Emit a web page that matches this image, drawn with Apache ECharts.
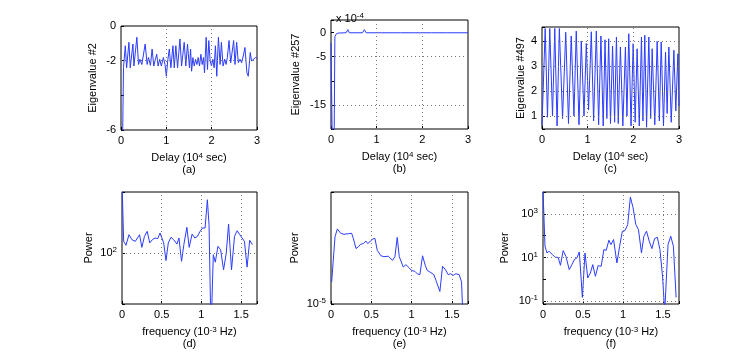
<!DOCTYPE html>
<html>
<head>
<meta charset="utf-8">
<script src="https://cdn.jsdelivr.net/npm/echarts@6.0.0/dist/echarts.min.js"></script>
<style>
  html, body { margin: 0; padding: 0; background: #fff; }
  #chart { width: 749px; height: 352px; }
</style>
</head>
<body>
<div id="chart"></div>
<script>
// (a) eigenvalue #2 against delay (10^4 sec)
var delayA = [0.036, 0.055, 0.095, 0.124, 0.175, 0.204, 0.263, 0.285, 0.35, 0.387, 0.416, 0.46, 0.533, 0.577, 0.606, 0.65, 0.686, 0.723, 0.759, 0.788, 0.818, 0.854, 0.89, 0.934, 0.971, 1.0, 1.03, 1.066, 1.10, 1.146, 1.175, 1.21, 1.248, 1.30, 1.336, 1.394, 1.43, 1.467, 1.51, 1.535, 1.557, 1.586, 1.615, 1.645, 1.674, 1.703, 1.732, 1.762, 1.791, 1.82, 1.842, 1.879, 1.908, 1.937, 1.966, 1.996, 2.025, 2.054, 2.083, 2.113, 2.149, 2.186, 2.215, 2.251, 2.288, 2.317, 2.346, 2.383, 2.42, 2.449, 2.485, 2.515, 2.551, 2.588, 2.624, 2.661, 2.697, 2.734, 2.778, 2.807, 2.851, 2.88, 2.917, 2.968, 3.0];
var eigA = [-6.3, -2.4, -1.14, -2.41, -0.94, -2.41, -1.04, -2.31, -0.65, -2.22, -1.92, -2.22, -1.04, -2.22, -1.82, -2.27, -1.33, -2.31, -1.92, -1.63, -2.31, -1.92, -2.31, -1.82, -2.22, -2.9, -2.02, -1.33, -2.41, -1.14, -2.41, -1.14, -2.41, -0.75, -2.31, -0.94, -2.31, -1.04, -2.41, -1.33, -2.61, -1.82, -2.31, -1.92, -2.22, -1.82, -2.31, -1.63, -2.22, -1.82, -2.71, -0.65, -2.51, -0.84, -2.02, -2.31, -1.92, -2.41, -1.14, -2.9, -0.65, -2.22, -0.94, -2.31, -1.92, -2.22, -1.82, -0.84, -2.12, -2.02, -0.84, -2.22, -0.94, -2.12, -1.92, -2.12, -1.73, -1.24, -2.71, -2.9, -1.53, -2.02, -1.92, -1.82, -1.85];

// (b) eigenvalue #257 (x 10^-4)
var delayB = [0, 0.025, 0.07, 0.085, 0.12, 0.17, 0.2, 0.33, 0.37, 0.4, 0.69, 0.73, 0.77, 1.03, 1.06, 1.1, 1.45, 1.48, 1.52, 1.8, 1.83, 1.86, 2.2, 2.23, 2.26, 2.5, 2.53, 2.56, 3.0];
var eigB = [-2.2, -21, -21, -0.8, -0.25, -0.1, -0.05, -0.05, 0.6, -0.05, -0.05, 0.6, -0.05, -0.05, 0.25, -0.05, -0.05, 0.15, -0.05, -0.05, 0.15, -0.05, -0.05, 0.2, -0.05, -0.05, 0.15, -0.05, -0.05];

// (c) eigenvalue #497
var delayC = [0, 0.04, 0.07, 0.12, 0.17, 0.23, 0.28, 0.33, 0.38, 0.45, 0.52, 0.58, 0.64, 0.70, 0.75, 0.81, 0.86, 0.92, 0.97, 1.02, 1.08, 1.13, 1.19, 1.24, 1.29, 1.34, 1.38, 1.42, 1.46, 1.50, 1.545, 1.59, 1.63, 1.67, 1.717, 1.77, 1.827, 1.86, 1.90, 1.95, 1.996, 2.04, 2.083, 2.13, 2.178, 2.21, 2.251, 2.29, 2.339, 2.38, 2.412, 2.47, 2.522, 2.57, 2.61, 2.66, 2.705, 2.74, 2.778, 2.83, 2.888, 2.93, 2.975, 3.0];
var eigC = [0.62, 0.62, 4.5, 0.95, 4.5, 1.0, 4.5, 0.6, 4.5, 0.9, 4.35, 0.7, 4.2, 1.0, 4.4, 0.65, 4.0, 1.0, 3.9, 1.25, 4.37, 0.8, 4.4, 0.65, 4.2, 0.6, 4.05, 0.9, 4.09, 0.7, 3.8, 0.75, 4.16, 0.7, 3.76, 0.6, 3.76, 1.0, 4.29, 0.6, 3.89, 0.75, 3.69, 0.6, 4.16, 0.8, 4.23, 0.55, 4.16, 0.9, 3.69, 0.65, 3.99, 0.8, 3.96, 0.6, 3.56, 1.1, 3.76, 0.75, 3.63, 1.2, 3.49, 1.4];

// (d) power spectrum of (a), frequency in 10^-3 Hz
var freqD = [0, 0.021, 0.05, 0.088, 0.125, 0.167, 0.192, 0.221, 0.25, 0.283, 0.317, 0.35, 0.383, 0.417, 0.45, 0.479, 0.504, 0.525, 0.554, 0.583, 0.617, 0.65, 0.692, 0.717, 0.75, 0.779, 0.817, 0.846, 0.883, 0.917, 0.95, 0.983, 1.013, 1.046, 1.075, 1.096, 1.121, 1.15, 1.175, 1.208, 1.242, 1.279, 1.313, 1.342, 1.379, 1.417, 1.45, 1.483, 1.513, 1.542, 1.575, 1.608, 1.642];
var powD = [1000, 145, 128, 179, 153, 145, 142, 179, 120, 170, 199, 138, 153, 161, 158, 189, 179, 138, 79, 138, 165, 153, 133, 161, 77, 131, 226, 120, 183, 161, 170, 199, 221, 221, 542, 246, 8, 95, 75, 124, 111, 59, 100, 251, 59, 170, 203, 179, 161, 145, 64, 150, 131];

// (e) power spectrum of (b)
var freqE = [0.008, 0.05, 0.079, 0.12, 0.161, 0.215, 0.256, 0.277, 0.31, 0.339, 0.368, 0.401, 0.434, 0.455, 0.483, 0.517, 0.545, 0.574, 0.62, 0.657, 0.711, 0.764, 0.793, 0.822, 0.847, 0.897, 0.93, 0.971, 1.0, 1.041, 1.07, 1.103, 1.136, 1.169, 1.194, 1.227, 1.277, 1.302, 1.351, 1.384, 1.417, 1.455, 1.483, 1.517, 1.55, 1.591, 1.62, 1.649];
var powE = [1.5e-5, 3.47e-5, 4.01e-5, 3.70e-5, 3.63e-5, 3.67e-5, 3.70e-5, 3.37e-5, 2.79e-5, 2.88e-5, 3.02e-5, 3.06e-5, 3.20e-5, 3.06e-5, 3.16e-5, 3.33e-5, 3.37e-5, 2.70e-5, 2.44e-5, 2.40e-5, 2.42e-5, 2.24e-5, 2.40e-5, 3.43e-5, 2.40e-5, 1.98e-5, 2.07e-5, 1.95e-5, 1.86e-5, 1.83e-5, 1.75e-5, 1.72e-5, 2.44e-5, 2.05e-5, 1.86e-5, 1.81e-5, 1.72e-5, 1.55e-5, 1.26e-5, 2.01e-5, 1.90e-5, 1.72e-5, 1.75e-5, 1.70e-5, 1.75e-5, 1.72e-5, 1.50e-5, 5e-6];

// (f) power spectrum of (c)
var freqF = [0, 0.025, 0.05, 0.076, 0.097, 0.118, 0.151, 0.189, 0.218, 0.252, 0.286, 0.328, 0.361, 0.391, 0.424, 0.454, 0.492, 0.525, 0.559, 0.592, 0.622, 0.655, 0.689, 0.727, 0.761, 0.79, 0.824, 0.849, 0.882, 0.924, 0.958, 0.992, 1.025, 1.059, 1.092, 1.126, 1.16, 1.193, 1.231, 1.261, 1.294, 1.328, 1.361, 1.395, 1.429, 1.462, 1.496, 1.521, 1.563, 1.597, 1.63, 1.664];
var powF = [12000, 32.7, 16.1, 19.3, 20.7, 13.5, 10.2, 10.2, 4.38, 20.7, 11.4, 2.77, 4.70, 7.98, 9.53, 17.9, 0.149, 16.1, 1.15, 1.95, 4.70, 1.37, 4.22, 3.94, 23.0, 21.4, 61.7, 39.0, 66.2, 5.61, 32.7, 160, 171, 324, 5830, 1890, 324, 191, 16.1, 94.2, 160, 55.5, 25.5, 73.6, 84.8, 23.0, 1.15, 0.03, 39.0, 94.2, 32.7, 0.149];

// tick labels
var delayTicks = [0, 1, 2, 3];
var freqTicks = [0, 0.5, 1, 1.5];
var eigATicks = [-6, -2, 0];
var eigBTicks = [-15, -5, 0];
var eigCTicks = [1, 2, 3, 4];
var powDExp = [2];
var powEExp = [-5];
var powFExp = [-1, 1, 3];

var BLUE = '#2b3cff';
var FONT = "'Liberation Sans', Arial, sans-serif";
// superscript: small text pinned to the top of the line
var supRich = {
  s: { fontSize: 8, lineHeight: 2, verticalAlign: 'top', fontFamily: FONT, color: '#000' }
};

// [left, top, width, height] of the six plot boxes
var rects = [
  [121, 26, 136, 104], [331, 20, 137, 109], [542, 27, 137, 102],
  [122, 192, 135, 112], [331, 192, 137, 112], [543, 192, 136, 112]
];

function zip(xs, ys) {
  return xs.map(function (x, i) { return [x, ys[i]]; });
}

function listFormatter(list) {
  return function (v) {
    for (var i = 0; i < list.length; i++) {
      if (Math.abs(v - list[i]) < 1e-9) return String(list[i]);
    }
    return '';
  };
}

function logFormatter(list) {
  return function (v) {
    var e = Math.log10(v);
    var r = Math.round(e);
    if (Math.abs(e - r) > 1e-6 || list.indexOf(r) < 0) return '';
    return '10{s|' + r + '}';
  };
}

function textStyle(extra) {
  var s = { fontSize: 11, color: '#000', fontFamily: FONT, rich: supRich };
  for (var k in extra) s[k] = extra[k];
  return s;
}

function makeX(i, max, ticks, name) {
  return {
    type: 'value', gridIndex: i, min: 0, max: max, interval: max > 2 ? 1 : 0.5,
    axisLine: { show: false, onZero: false },
    axisTick: { inside: true, length: 3, lineStyle: { color: '#000' } },
    axisLabel: textStyle({ margin: 5, formatter: listFormatter(ticks) }),
    splitLine: { show: false },
    name: name, nameLocation: 'middle', nameGap: 22,
    nameTextStyle: textStyle({ lineHeight: 12 })
  };
}

function makeY(i, min, max, interval, ticks, name, gap) {
  return {
    type: 'value', gridIndex: i, min: min, max: max, interval: interval,
    axisLine: { show: false, onZero: false },
    axisTick: { inside: true, length: 3, lineStyle: { color: '#000' } },
    axisLabel: textStyle({ margin: 5, formatter: listFormatter(ticks) }),
    splitLine: { show: false },
    name: name, nameLocation: 'middle', nameGap: gap,
    nameTextStyle: textStyle({})
  };
}

function makeLogY(i, min, max, exps, gap) {
  return {
    type: 'log', logBase: 10, gridIndex: i, min: min, max: max,
    axisLine: { show: false, onZero: false },
    axisTick: { inside: true, length: 3, lineStyle: { color: '#000' } },
    axisLabel: textStyle({ margin: 5, lineHeight: 14, formatter: logFormatter(exps) }),
    splitLine: { show: false },
    name: 'Power', nameLocation: 'middle', nameGap: gap,
    nameTextStyle: textStyle({})
  };
}

// dotted grid lines drawn under the curves
function gridLines(i, xs, ys) {
  var data = xs.map(function (v) { return { xAxis: v }; })
    .concat(ys.map(function (v) { return { yAxis: v }; }));
  return {
    type: 'line', xAxisIndex: i, yAxisIndex: i, data: [], z: 1, silent: true,
    markLine: {
      silent: true, symbol: 'none', animation: false,
      label: { show: false },
      lineStyle: { color: '#777', type: [1, 3], width: 1 },
      data: data
    }
  };
}

function curve(i, xs, ys) {
  return {
    type: 'line', xAxisIndex: i, yAxisIndex: i, data: zip(xs, ys), z: 2,
    showSymbol: false, symbol: 'none', clip: true, animation: false,
    lineStyle: { color: BLUE, width: 1 }, itemStyle: { color: BLUE }
  };
}

var option = {
  backgroundColor: '#fff',
  animation: false,
  title: {
    text: 'x 10{s|-4}', left: 331, top: 7,
    textStyle: textStyle({ fontWeight: 'normal', lineHeight: 13 })
  },
  grid: rects.map(function (r) {
    return {
      left: r[0], top: r[1], width: r[2], height: r[3],
      show: true, borderColor: '#000', borderWidth: 1, backgroundColor: 'transparent'
    };
  }),
  xAxis: [
    makeX(0, 3, delayTicks, 'Delay (10{s|4} sec)\n(a)'),
    makeX(1, 3, delayTicks, 'Delay (10{s|4} sec)\n(b)'),
    makeX(2, 3, delayTicks, 'Delay (10{s|4} sec)\n(c)'),
    makeX(3, 1.7, freqTicks, 'frequency (10{s|-3} Hz)\n(d)'),
    makeX(4, 1.7, freqTicks, 'frequency (10{s|-3} Hz)\n(e)'),
    makeX(5, 1.7, freqTicks, 'frequency (10{s|-3} Hz)\n(f)')
  ],
  yAxis: [
    makeY(0, -6, 0, 2, eigATicks, 'Eigenvalue #2', 23),
    makeY(1, -20, 2.6, 5, eigBTicks, 'Eigenvalue #257', 30),
    makeY(2, 0.48, 4.56, null, eigCTicks, 'Eigenvalue #497', 16),
    makeLogY(3, 19.95, 691.8, powDExp, 28),
    makeLogY(4, 1e-5, 7.94e-5, powEExp, 31),
    makeLogY(5, 0.074, 10000, powFExp, 33)
  ],
  series: [
    gridLines(0, [1, 2], [-2]),
    gridLines(1, [1, 2], [-5, -15]),
    gridLines(2, [1, 2], [1, 2, 3, 4]),
    gridLines(3, [0.5, 1, 1.5], [100]),
    gridLines(4, [0.5, 1, 1.5], [1e-5]),
    gridLines(5, [0.5, 1, 1.5], [0.1, 10, 1000]),
    curve(0, delayA, eigA),
    curve(1, delayB, eigB),
    curve(2, delayC, eigC),
    curve(3, freqD, powD),
    curve(4, freqE, powE),
    curve(5, freqF, powF)
  ]
};

var chart = echarts.init(document.getElementById('chart'), null, { renderer: 'canvas', width: 749, height: 352 });
chart.setOption(option);
</script>
</body>
</html>
